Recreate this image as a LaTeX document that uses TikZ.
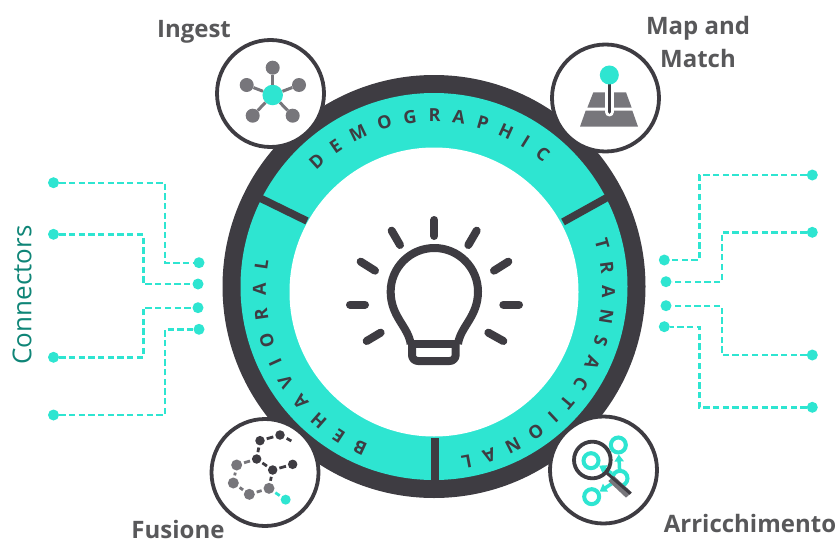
\documentclass[tikz,border=0pt]{standalone}
\usepackage{fontspec}
\setmainfont{Open Sans}
\IfFontExistsTF{Open Sans SemiBold}{\newfontfamily\semifont{Open Sans SemiBold}}{\newfontfamily\semifont{Open Sans}[BoldFont={Open Sans Bold}]\let\oldsemi\semifont\renewcommand{\semifont}{\oldsemi\bfseries}}
\usetikzlibrary{decorations.text,arrows.meta}
\definecolor{teal1}{HTML}{2EE5D1}
\definecolor{ink}{HTML}{3E3C42}
\definecolor{greyicon}{HTML}{77767B}
\definecolor{labelgrey}{HTML}{58585A}
\definecolor{tealtext}{HTML}{0F8577}
\newcommand{\ringfont}{\bfseries\fontsize{18}{18}\selectfont\color{ink}}
\tikzset{
  term/.style={circle,fill=teal1,inner sep=0pt,minimum size=11pt},
  wire/.style={teal1,line width=2.4pt,dash pattern=on 6.3pt off 3.4pt},
  iconring/.style={circle,draw=ink,fill=white,line width=3.8pt,inner sep=0pt,minimum size=107pt},
  zoomed/.style 2 args={shift={(#1,#2)},x=0.33333pt,y=-0.33333pt},
  divider/.style={ink,line width=7.5pt},
  ray/.style={ink,line width=8pt,line cap=round},
  bulb/.style={ink,line width=8pt,line join=round},
  inglink/.style={greyicon,line width=3pt},
  dd/.style={circle,fill=ink,inner sep=0pt,minimum size=9.5pt},
  dg/.style={circle,fill=greyicon,inner sep=0pt,minimum size=11pt},
  dt/.style={circle,fill=teal1,inner sep=0pt,minimum size=10pt},
  flink/.style={line width=2.8pt,shorten <=2pt,shorten >=2pt},
  lab/.style={text=labelgrey,font=\semifont\fontsize{24}{33}\selectfont,align=center,inner sep=0pt},
  tring/.style={draw=teal1,line width=4pt},
  tarrow/.style={teal1,line width=3.5pt,-{Triangle[length=7pt,width=9pt]}}
}
\begin{document}
\begin{tikzpicture}[x=1pt,y=-1pt]
\useasboundingbox (0,0) rectangle (840,543);
% ring
\fill[ink] (434,286.5) circle[radius=211.5];
\fill[teal1] (434,286.5) circle[radius=193.5];
\fill[white] (434,292) circle[radius=144.5];
\coordinate (d1a) at (260,198); \coordinate (d1b) at (307,221);
\coordinate (d2a) at (608,197); \coordinate (d2b) at (563,222);
\coordinate (d3a) at (435,438); \coordinate (d3b) at (435,482);
\draw[divider] (d1a)--(d1b);
\draw[divider] (d2a)--(d2b);
\draw[divider] (d3a)--(d3b);
% ring text
\begin{scope}[shift={(434,290)},x=1pt,y=1pt]
\path[decorate,decoration={text along path,text align={fit to path},text={|\ringfont|DEMOGRAPHIC}}]
  (134.5:168) arc[start angle=134.5,end angle=49.5,radius=168];
\path[decorate,decoration={text along path,text align={fit to path},text={|\ringfont|BEHAVIORAL}}]
  (247:168) arc[start angle=247,end angle=170,radius=168];
\path[decorate,decoration={text along path,text align={fit to path},text={|\ringfont|TRANSACTIONAL}}]
  (17:168) arc[start angle=17,end angle=-81,radius=168];
\end{scope}
% bulb
\begin{scope}[zoomed={340}{210}]
\draw[ray] (283,30)--(283,78);
\draw[ray] (155,62)--(180,105);
\draw[ray] (410,62)--(385,105);
\draw[ray] (62,155)--(105,182);
\draw[ray] (505,155)--(462,182);
\draw[ray] (30,284)--(75,284);
\draw[ray] (537,284)--(490,284);
\draw[ray] (80,393)--(122,368);
\draw[ray] (490,393)--(445,368);
\draw[bulb] (212,402) .. controls (205,350) and (152,320) .. (152,245)
   arc[start angle=180,end angle=360,radius=131]
   .. controls (414,320) and (361,350) .. (354,402);
\draw[bulb] (212,402) -- (354,402);
\draw[bulb,rounded corners=6pt] (216,400) -- (216,453) -- (347,453) -- (347,400);
\end{scope}
% connectors left
\node[term] (l1a) at (53.5,182.7) {}; \node[term] (l1b) at (199,262.7) {};
\node[term] (l2a) at (53.5,234.3) {}; \node[term] (l2b) at (198,284) {};
\node[term] (l3a) at (53.5,357.3) {}; \node[term] (l3b) at (198,307.7) {};
\node[term] (l4a) at (53.5,415) {};   \node[term] (l4b) at (199,329.3) {};
\draw[wire] (l1a) -- (165,182.7) -- (165,262.7) -- (l1b);
\draw[wire] (l2a) -- (143.3,234.3) -- (143.3,284) -- (l2b);
\draw[wire] (l3a) -- (143.3,357.3) -- (143.3,307.7) -- (l3b);
\draw[wire] (l4a) -- (165,415) -- (165,329.3) -- (l4b);
% connectors right
\node[term] (r1a) at (812.3,175) {};   \node[term] (r1b) at (664.3,260) {};
\node[term] (r2a) at (812.3,232.3) {}; \node[term] (r2b) at (666,281.7) {};
\node[term] (r3a) at (812.3,355) {};   \node[term] (r3b) at (666,305.7) {};
\node[term] (r4a) at (812.3,407.3) {}; \node[term] (r4b) at (664.3,326.7) {};
\draw[wire] (r1a) -- (699.3,175) -- (699.3,260) -- (r1b);
\draw[wire] (r2a) -- (721.7,232.3) -- (721.7,281.7) -- (r2b);
\draw[wire] (r3a) -- (721.7,355) -- (721.7,305.7) -- (r3b);
\draw[wire] (r4a) -- (699.3,407.3) -- (699.3,326.7) -- (r4b);
% icon circles
\node[iconring] (ing) at (270.5,93.5) {};
\node[iconring] (map) at (605.5,98) {};
\node[iconring] (fus) at (265,472.5) {};
\node[iconring] (arr) at (603.5,470) {};
% ingest icon
\node[circle,fill=teal1,inner sep=0pt,minimum size=20.5pt] (ihub) at (272.7,95) {};
\foreach \n/\x/\y in {a/272.7/67.7,b/246.7/85,c/299/85,d/252.7/115.7,e/292.7/115.7}{
  \node[circle,fill=greyicon,inner sep=0pt,minimum size=14pt] (sat\n) at (\x,\y) {};
}
\foreach \n in {a,b,c,d,e}{ \draw[inglink] (ihub) -- (sat\n); }
% map icon
\begin{scope}[zoomed={540}{30}]
\fill[greyicon] (160,187) -- (258,187) -- (275,233) -- (142,233) -- cycle;
\fill[greyicon] (137,242) -- (277,242) -- (294,290) -- (120,290) -- cycle;
\draw[white,line width=9pt,line cap=round] (208,130) -- (208,246);
\draw[ink,line width=3.6pt,line cap=round] (208,130) -- (208,246);
\node[circle,fill=teal1,inner sep=0pt,minimum size=19pt] (mp) at (208,135) {};
\end{scope}
% fusione icon
\begin{scope}[zoomed={200}{405}]
\foreach \n/\x/\y in {a/180/107,b/240/90,c/170/162,d/218/195,e/278/178}{ \node[dd] (f\n) at (\x,\y) {}; }
\foreach \n/\x/\y in {g/110/180,h/100/234,i/148/268,j/207/250}{ \node[dg] (f\n) at (\x,\y) {}; }
\node[dt] (ft) at (257,284) {};
\coordinate (fz) at (274,108);
\foreach \p/\q in {fa/fb,fa/fc,fc/fd,fd/fe,fd/fj}{ \draw[ink,flink] (\p) -- (\q); }
\draw[ink,line width=2.8pt] (260,100) -- (fz);
\foreach \p/\q in {fc/fg,fg/fh,fh/fi,fi/fj}{ \draw[greyicon,flink] (\p) -- (\q); }
\draw[teal1,flink] (fj) -- (ft);
\end{scope}
% arricchimento icon
\begin{scope}[zoomed={540}{405}]
\node[circle,tring,inner sep=0pt,minimum size=15pt] (a1) at (235,120) {};
\node[circle,tring,inner sep=0pt,minimum size=15pt] (a2) at (153,167) {};
\node[circle,tring,inner sep=0pt,minimum size=15pt] (a3) at (240,220) {};
\node[circle,tring,inner sep=0pt,minimum size=15pt] (a4) at (155,275) {};
\draw[tarrow] (a3) -- (a1);
\draw[tarrow] (a3) -- (a2);
\draw[tarrow] (a3) -- (a4);
\fill[greyicon] (205,228) -- (222,213) -- (275,262) -- (258,278) -- cycle;
\draw[ink,line width=3pt] (196,200) -- (272,266);
\draw[ink,line width=3.8pt] (157,165) circle[radius=55];
\end{scope}
% labels
\node[lab] (t1) at (194,32) {Ingest};
\node[lab] (t2) at (698,41.5) {Map and\\Match};
\node[lab] (t3) at (178,529.5) {Fusione};
\node[lab] (t4) at (750,523) {Arricchimento};
\node[rotate=90,text=tealtext,inner sep=0pt,font=\fontsize{26}{30}\selectfont] (t5) at (22,295) {Connectors};
\end{tikzpicture}
\end{document}
